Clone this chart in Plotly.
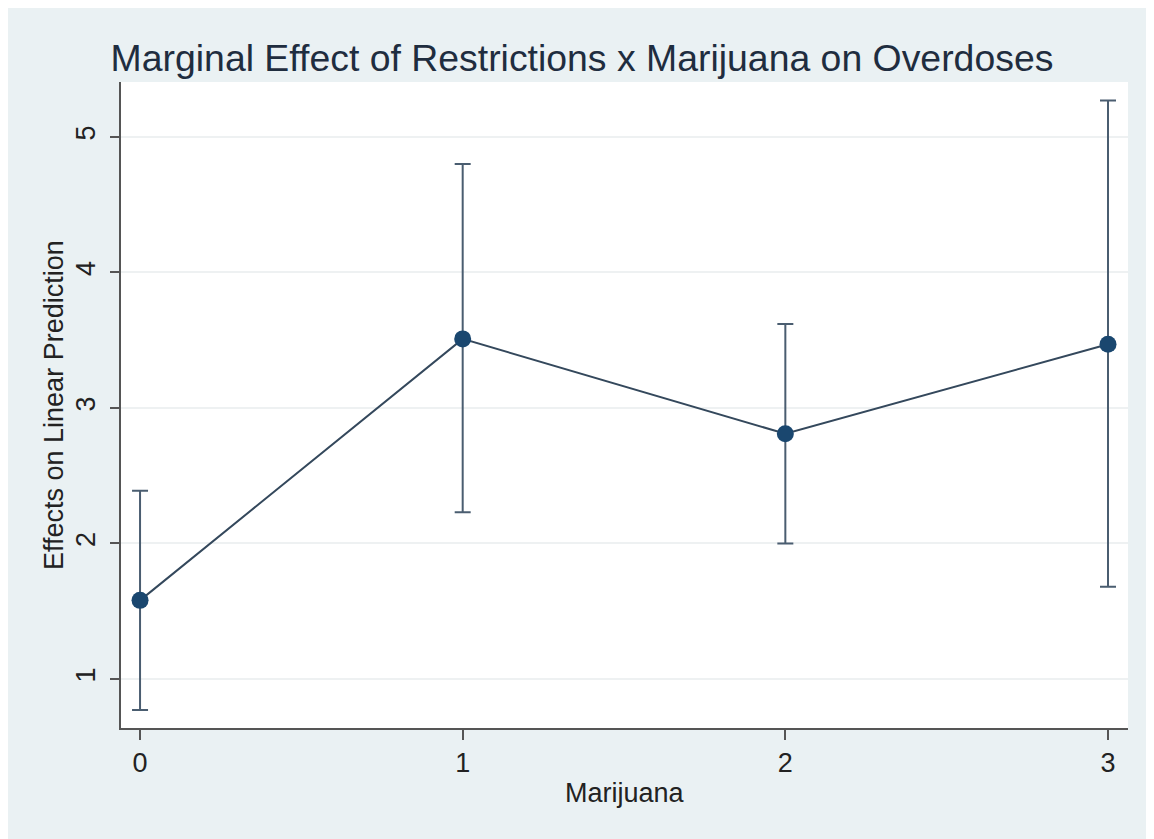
import plotly.graph_objects as go

# Data
marijuana = [0, 1, 2, 3]
effect = [1.58, 3.51, 2.81, 3.47]
ci_low = [0.77, 2.23, 2.00, 1.68]
ci_high = [2.39, 4.80, 3.62, 5.27]

x_ticks = [0, 1, 2, 3]
y_ticks = [1, 2, 3, 4, 5]

title_text = "Marginal Effect of Restrictions x Marijuana on Overdoses"
x_title = "Marijuana"
y_title = "Effects on Linear Prediction"

# page body has an 8px margin, so the figure is slightly smaller than the window
W, H = 1146, 831
L, R, T, B = 113, 26, 74, 111
pw = W - L - R
ph = H - T - B

BG = "#EAF1F3"
NAVY = "#1A476F"
LINE = "#34485C"
FONT = "Liberation Sans, Arial, sans-serif"
TXT = "#222222"

err_plus = [h - e for h, e in zip(ci_high, effect)]
err_minus = [e - l for e, l in zip(effect, ci_low)]

fig = go.Figure()
fig.add_trace(go.Scatter(
    x=marijuana, y=effect,
    mode="lines+markers",
    line=dict(color=LINE, width=2),
    marker=dict(color=NAVY, size=17),
    error_y=dict(type="data", symmetric=False, array=err_plus, arrayminus=err_minus,
                 color="#4A5D70", thickness=2, width=8),
    showlegend=False,
))

annotations = [
    dict(text=x_title, xref="paper", yref="paper", x=0.5, y=-65 / ph,
         xanchor="center", yanchor="middle", showarrow=False,
         font=dict(size=27, color=TXT, family=FONT)),
    dict(text=y_title, xref="paper", yref="paper", x=-(L - 46) / pw, y=0.5,
         xanchor="center", yanchor="middle", textangle=-90, showarrow=False,
         font=dict(size=27, color=TXT, family=FONT)),
]

fig.update_layout(
    width=W, height=H,
    margin=dict(l=L, r=R, t=T, b=B, pad=0),
    paper_bgcolor=BG,
    plot_bgcolor="white",
    font=dict(family=FONT, color=TXT),
    title=dict(text=title_text, x=(582 - 8) / W, xref="container", xanchor="center",
               y=1 - 50 / H, yref="container", yanchor="middle",
               font=dict(size=37.4, color="#1F2D3F", family=FONT)),
    annotations=annotations,
    xaxis=dict(
        range=[-0.059, 3.062],
        tickvals=x_ticks, ticktext=[str(v) for v in x_ticks],
        showgrid=False, zeroline=False,
        showline=True, linecolor="#555555", linewidth=2,
        ticks="outside", ticklen=10, tickwidth=2, tickcolor="#555555",
        tickfont=dict(size=27, color=TXT),
        ticklabelstandoff=0,
    ),
    yaxis=dict(
        range=[0.638, 5.406],
        tickvals=y_ticks, ticktext=[str(v) for v in y_ticks],
        tickangle=-90,
        showgrid=True, gridcolor="#EEF1F2", gridwidth=1.5,
        zeroline=False,
        showline=True, linecolor="#555555", linewidth=2,
        ticks="outside", ticklen=9, tickwidth=2, tickcolor="#555555",
        tickfont=dict(size=27, color=TXT),
        ticklabelstandoff=4,
    ),
)

fig.write_html("out.html")
